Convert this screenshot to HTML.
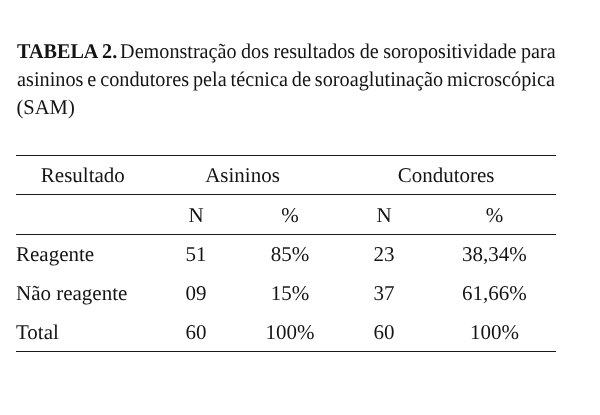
<!DOCTYPE html>
<html><head><meta charset="utf-8">
<style>
html,body{margin:0;padding:0;background:#fff;}
body{filter:grayscale(1);text-rendering:geometricPrecision;width:600px;height:415px;position:relative;overflow:hidden;font-family:"Liberation Serif",serif;color:#141414;}
.cl{position:absolute;left:17px;font-size:21px;line-height:21px;white-space:nowrap;transform-origin:0 0;}
.ln{position:absolute;left:16px;width:540px;height:1px;background:#1a191d;}
.t{position:absolute;font-size:21px;line-height:21px;white-space:nowrap;}
.c{width:200px;text-align:center;}
</style></head><body>

<div class="cl" style="top:41.21px;transform:scaleX(0.96);word-spacing:-0.6px"><b style="word-spacing:-0.3px">TABELA 2.</b><span style="word-spacing:-2.2px"> </span>Demonstração dos resultados de soropositividade para</div>
<div class="cl" style="top:69.11px;transform:scaleX(0.965);word-spacing:-1.25px">asininos e condutores pela técnica de soroaglutinação microscópica</div>
<div class="cl" style="top:97.11px;transform:scaleX(0.98);word-spacing:0px"><span style="margin-left:-0.6px">(SAM)</span></div>
<div class="ln" style="top:155px"></div>
<div class="ln" style="top:194px"></div>
<div class="ln" style="top:234px"></div>
<div class="ln" style="top:351px"></div>
<div class="t c" style="left:-17.150000000000006px;top:165.11px">Resultado</div>
<div class="t c" style="left:142.5px;top:165.11px">Asininos</div>
<div class="t c" style="left:346.15px;top:165.11px">Condutores</div>
<div class="t c" style="left:96px;top:204.91px">N</div>
<div class="t c" style="left:190px;top:204.91px">%</div>
<div class="t c" style="left:284px;top:204.91px">N</div>
<div class="t c" style="left:394.4px;top:204.91px">%</div>
<div class="t" style="left:16px;top:243.81px">Reagente</div>
<div class="t c" style="left:96px;top:243.81px">51</div>
<div class="t c" style="left:190px;top:243.81px">85%</div>
<div class="t c" style="left:284px;top:243.81px">23</div>
<div class="t c" style="left:394.4px;top:243.81px">38,34%</div>
<div class="t" style="left:16px;top:283.11px">Não reagente</div>
<div class="t c" style="left:96px;top:283.11px">09</div>
<div class="t c" style="left:190px;top:283.11px">15%</div>
<div class="t c" style="left:284px;top:283.11px">37</div>
<div class="t c" style="left:394.4px;top:283.11px">61,66%</div>
<div class="t" style="left:16px;top:321.81px">Total</div>
<div class="t c" style="left:96px;top:321.81px">60</div>
<div class="t c" style="left:190px;top:321.81px">100%</div>
<div class="t c" style="left:284px;top:321.81px">60</div>
<div class="t c" style="left:394.4px;top:321.81px">100%</div>
</body></html>
